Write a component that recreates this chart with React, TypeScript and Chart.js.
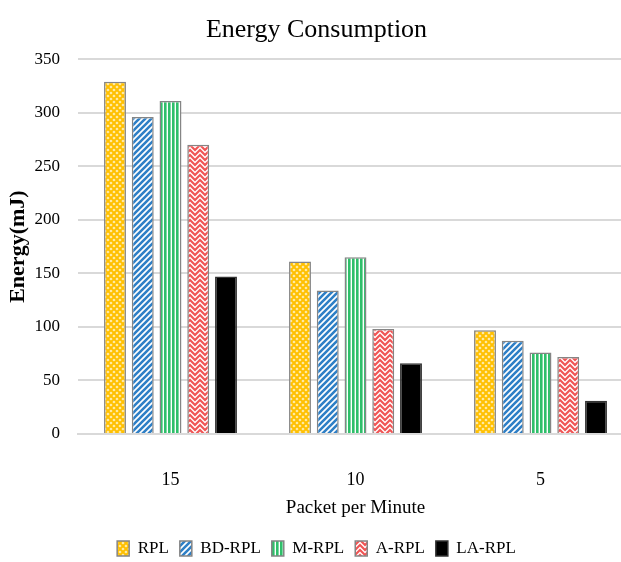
import React, { useEffect, useRef } from "react";
import { Chart, registerables } from "chart.js";

Chart.register(...registerables);

const categories = ["15", "10", "5"];
const seriesNames = ["RPL", "BD-RPL", "M-RPL", "A-RPL", "LA-RPL"];
const rplValues = [329, 161, 97];
const bdRplValues = [296, 134, 87];
const mRplValues = [311, 165, 76];
const aRplValues = [270, 98, 72];
const laRplValues = [147, 66, 31];
const yTicks = [0, 50, 100, 150, 200, 250, 300, 350];

const FONT = "'Liberation Serif', 'DejaVu Serif', serif";

function makePattern(kind: string): CanvasPattern | string {
  const c = document.createElement("canvas");
  const ctx = c.getContext("2d");
  if (!ctx) return "#888";
  if (kind === "dots") {
    c.width = 6; c.height = 6;
    ctx.fillStyle = "#ffc000";
    ctx.fillRect(0, 0, 6, 6);
    ctx.fillStyle = "rgba(255,240,190,0.95)";
    const pts = [[0, 0], [6, 0], [0, 6], [6, 6], [3, 3]];
    for (const [x, y] of pts) {
      ctx.beginPath();
      ctx.moveTo(x, y - 1.6);
      ctx.lineTo(x + 1.6, y);
      ctx.lineTo(x, y + 1.6);
      ctx.lineTo(x - 1.6, y);
      ctx.closePath();
      ctx.fill();
    }
  } else if (kind === "diag") {
    c.width = 6; c.height = 6;
    ctx.fillStyle = "#ffffff";
    ctx.fillRect(0, 0, 6, 6);
    ctx.strokeStyle = "#2e7fc6";
    ctx.lineWidth = 2.6;
    ctx.beginPath();
    ctx.moveTo(-3, 9); ctx.lineTo(9, -3);
    ctx.moveTo(-6, 6); ctx.lineTo(6, -6);
    ctx.moveTo(0, 12); ctx.lineTo(12, 0);
    ctx.stroke();
  } else if (kind === "vert") {
    c.width = 4; c.height = 4;
    ctx.fillStyle = "#ffffff";
    ctx.fillRect(0, 0, 4, 4);
    ctx.fillStyle = "#2fbf6a";
    ctx.fillRect(0, 0, 2.6, 4);
  } else if (kind === "weave") {
    c.width = 10; c.height = 10;
    ctx.fillStyle = "#ffffff";
    ctx.fillRect(0, 0, 10, 10);
    ctx.strokeStyle = "#f05555";
    ctx.lineWidth = 2.2;
    ctx.lineCap = "square";
    ctx.beginPath();
    ctx.moveTo(0, 0); ctx.lineTo(5, 5); ctx.lineTo(10, 0);
    ctx.moveTo(0, 5); ctx.lineTo(5, 10); ctx.lineTo(10, 5);
    ctx.moveTo(0, -5); ctx.lineTo(5, 0); ctx.lineTo(10, -5);
    ctx.moveTo(0, 10); ctx.lineTo(5, 15); ctx.lineTo(10, 10);
    ctx.stroke();
  } else {
    return "#000000";
  }
  return ctx.createPattern(c, "repeat") || "#888";
}

export default function App() {
  const ref = useRef<HTMLCanvasElement | null>(null);
  useEffect(() => {
    if (!ref.current) return;
    const values = [rplValues, bdRplValues, mRplValues, aRplValues, laRplValues];
    const kinds = ["dots", "diag", "vert", "weave", "solid"];
    const chart = new Chart(ref.current, {
      type: "bar",
      data: {
        labels: categories,
        datasets: seriesNames.map((name, i) => ({
          label: name,
          data: values[i],
          backgroundColor: makePattern(kinds[i]) as any,
          borderColor: i === 4 ? "#333333" : "#858585",
          borderWidth: 1.5,
          categoryPercentage: 0.75,
          barPercentage: 0.79,
        })),
      },
      options: {
        animation: false,
        responsive: false,
        maintainAspectRatio: false,
        layout: { padding: { left: 0, right: 0, top: 0, bottom: -5 } },
        plugins: {
          title: {
            display: true,
            text: "Energy Consumption",
            color: "#000",
            font: { family: FONT, size: 26, weight: "normal" },
            padding: { top: 15, bottom: 13 },
          },
          legend: {
            position: "bottom",
            labels: {
              color: "#000",
              boxWidth: 12,
              boxHeight: 15,
              padding: 11,
              font: { family: FONT, size: 17 },
            },
          },
          tooltip: { enabled: false },
        },
        scales: {
          x: {
            afterFit: (scale: any) => {
              scale.height = 95;
            },
            grid: { display: false, drawTicks: false },
            border: { display: true, color: "#d9d9d9", width: 2 },
            ticks: { color: "#000", padding: 35, font: { family: FONT, size: 18 } },
            title: {
              display: true,
              text: "Packet per Minute",
              color: "#000",
              font: { family: FONT, size: 19 },
              padding: { top: 0, bottom: 10 },
            },
          },
          y: {
            min: 0,
            max: 350,
            afterFit: (scale: any) => {
              scale.width = 78;
            },
            afterBuildTicks: (scale: any) => {
              scale.ticks = yTicks.map((v) => ({ value: v }));
            },
            grid: { color: "#d9d9d9", lineWidth: 2, drawTicks: false },
            border: { display: false },
            ticks: { color: "#000", padding: 18, font: { family: FONT, size: 17 } },
            title: {
              display: true,
              text: "Energy(mJ)",
              color: "#000",
              font: { family: FONT, size: 22, weight: "bold" },
              padding: { top: 5, bottom: 0 },
            },
          },
        },
      },
    });
    return () => chart.destroy();
  }, []);
  return (
    <div style={{ position: "fixed", left: 0, top: 0, width: 621, height: 562, overflow: "hidden", background: "#fff" }}>
      <canvas ref={ref} width={633} height={562} style={{ width: 633, height: 562, display: "block" }} />
    </div>
  );
}
